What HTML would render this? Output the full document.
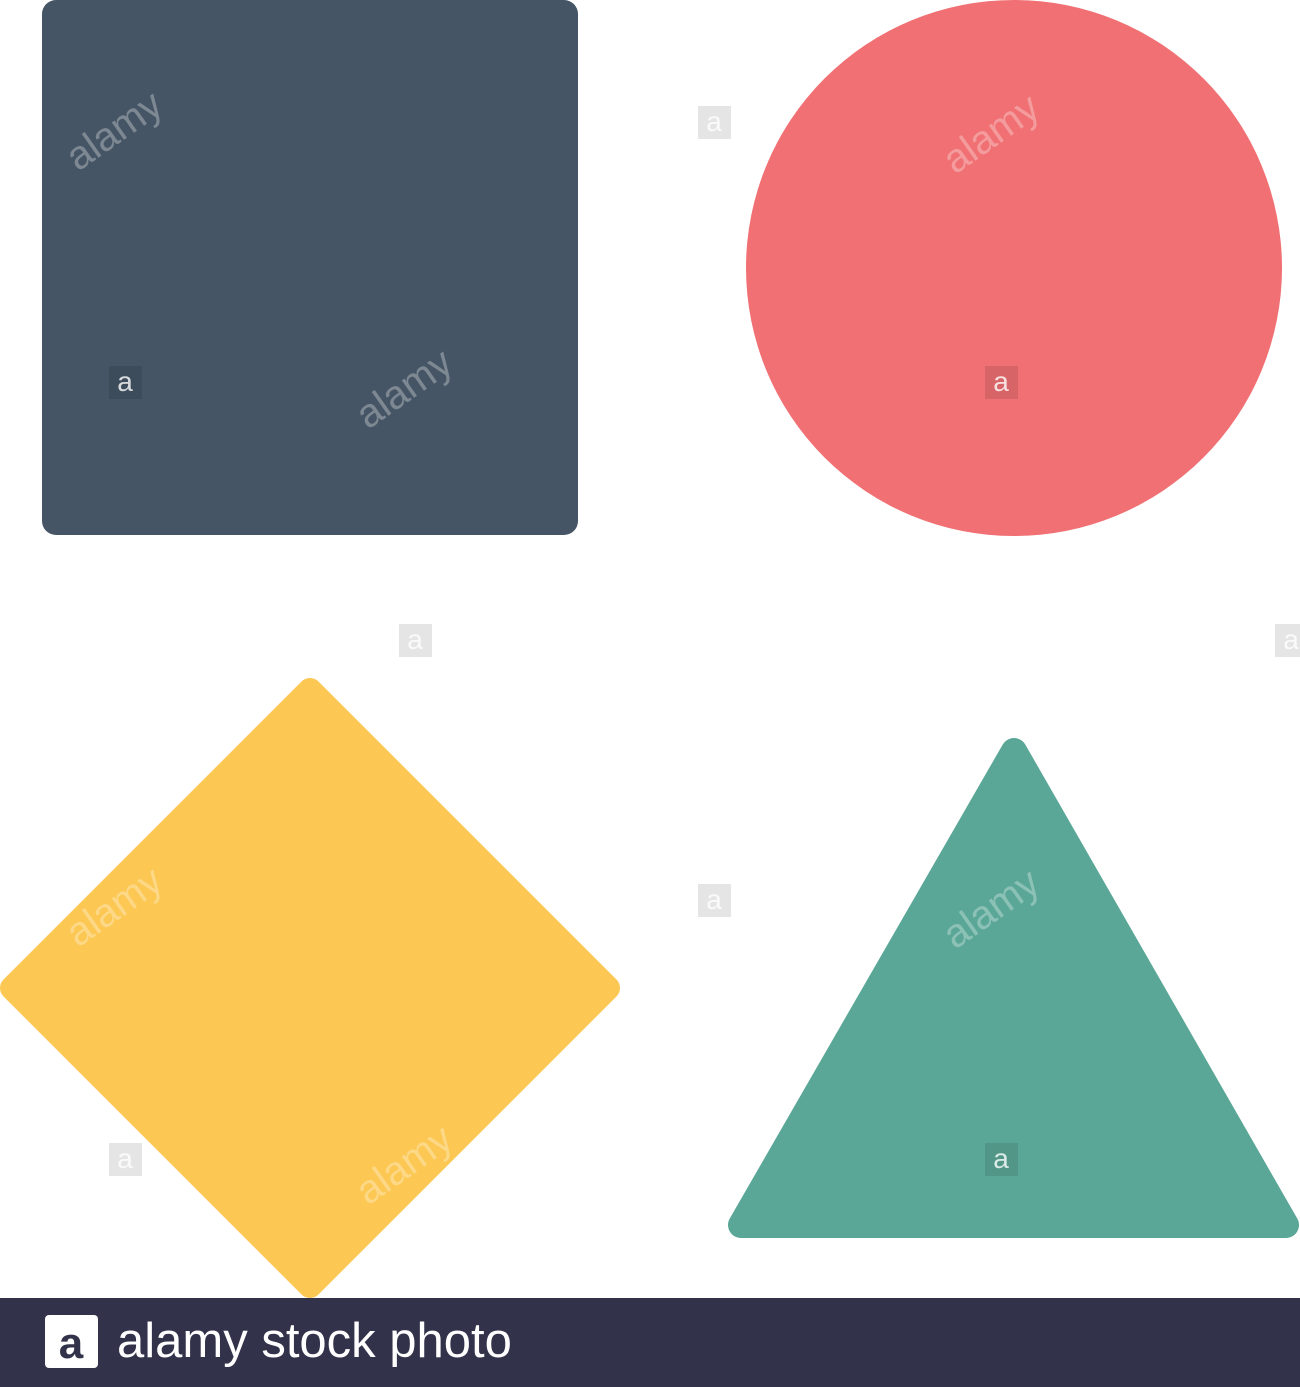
<!DOCTYPE html>
<html>
<head>
<meta charset="utf-8">
<style>
  html,body{margin:0;padding:0;background:#fff;}
  body{width:1300px;height:1387px;overflow:hidden;position:relative;font-family:"Liberation Sans",sans-serif;}
  svg{position:absolute;left:0;top:0;}
</style>
</head>
<body>
<svg width="1300" height="1387" viewBox="0 0 1300 1387">
  <rect x="42" y="0" width="536" height="535" rx="14" fill="#455565"/>
  <circle cx="1014" cy="268" r="268" fill="#f07073"/>
  <polygon points="12,988 310,690 608,988 310,1286" fill="#fcc752" stroke="#fcc752" stroke-width="24" stroke-linejoin="round"/>
  <polygon points="1014,751 1286,1225 741,1225" fill="#5ba797" stroke="#5ba797" stroke-width="26" stroke-linejoin="round"/>
  <g>
    <g fill="#000" fill-opacity="0.1">
      <rect x="698" y="106" width="33" height="33"/>
      <rect x="985" y="366" width="33" height="33"/>
      <rect x="109" y="366" width="33" height="33"/>
      <rect x="399" y="624" width="33" height="33"/>
      <rect x="1275" y="624" width="33" height="33"/>
      <rect x="698" y="884" width="33" height="33"/>
      <rect x="109" y="1143" width="33" height="33"/>
      <rect x="985" y="1143" width="33" height="33"/>
    </g>
    <g font-size="28" fill="#fff" fill-opacity="0.8" text-anchor="middle">
      <text x="714" y="131">a</text>
      <text x="1001" y="391">a</text>
      <text x="125" y="391">a</text>
      <text x="415" y="649">a</text>
      <text x="1291" y="649">a</text>
      <text x="714" y="909">a</text>
      <text x="125" y="1168">a</text>
      <text x="1001" y="1168">a</text>
    </g>
  </g>
  <g font-family="Liberation Sans, sans-serif" font-size="40" fill="#fff" fill-opacity="0.3">
    <text transform="translate(78,172) rotate(-35)">alamy</text>
    <text transform="translate(368,430) rotate(-35)">alamy</text>
    <text transform="translate(955,175) rotate(-35)">alamy</text>
    <text transform="translate(78,948) rotate(-35)">alamy</text>
    <text transform="translate(368,1206) rotate(-35)">alamy</text>
    <text transform="translate(955,950) rotate(-35)">alamy</text>
  </g>
  <rect x="0" y="1298" width="1300" height="89" fill="#32324a"/>
  <rect x="45" y="1315" width="53" height="53" rx="4" fill="#fff"/>
  <text x="71" y="1358" text-anchor="middle" font-size="44" font-weight="bold" fill="#32324a">a</text>
  <text x="117" y="1357" font-size="49" fill="#fff">alamy stock photo</text>
</svg>
</body>
</html>
